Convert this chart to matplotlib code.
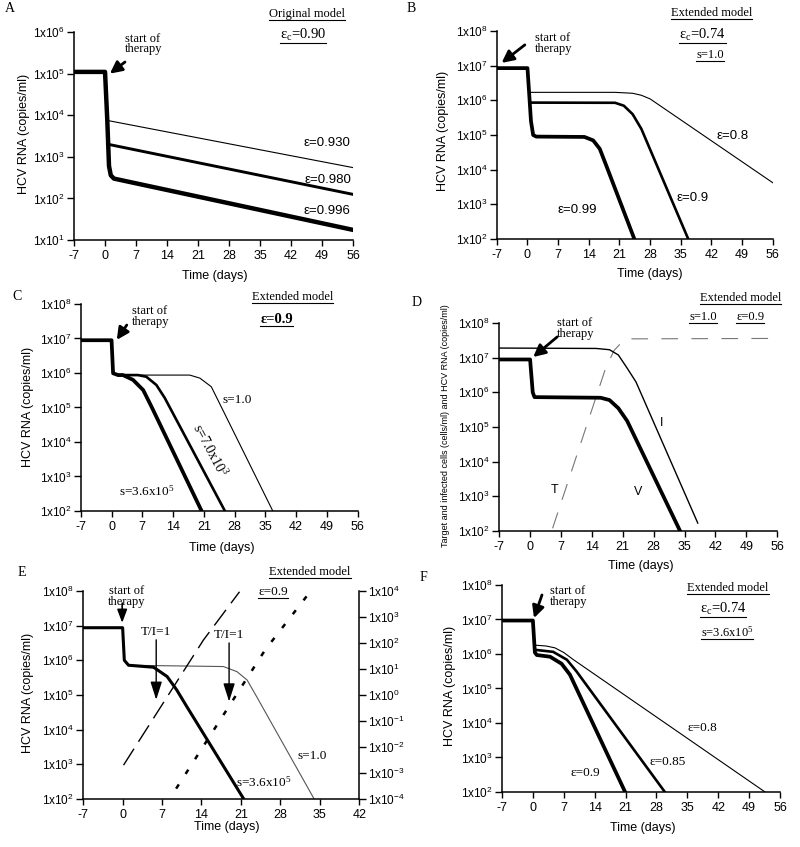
import matplotlib
matplotlib.use("Agg")
import matplotlib.pyplot as plt
from matplotlib.lines import Line2D
from matplotlib.ticker import NullLocator

plt.rcParams["font.family"] = "Liberation Sans"
plt.rcParams["mathtext.default"] = "regular"
plt.rcParams["axes.unicode_minus"] = False
SERIF = "Liberation Serif"

# ---- data (time in days, HCV RNA in copies/ml) ----
# A: original model
a_t_996 = [-7, 0, 0.5, 0.9, 1.3, 2.0, 56]
a_v_996 = [1.1e5, 1.1e5, 8e3, 6e2, 3.6e2, 3e2, 17.5]
a_t_980 = [0.7, 56]
a_v_980 = [2e3, 125]
a_t_930 = [0.5, 56]
a_v_930 = [7.5e3, 550]

# B: extended model, s=1.0
b_t_099 = [-7, 0, 0.4, 0.8, 1.3, 2.0, 13, 15, 16.5, 18, 24.4]
b_v_099 = [8.5e6, 8.5e6, 1.5e6, 2.5e5, 1e5, 9e4, 8.8e4, 7e4, 4e4, 1.3e4, 1e2]
b_t_09 = [0.45, 1.0, 20, 22, 24, 26, 36.7]
b_v_09 = [8.6e5, 8.6e5, 8.5e5, 7e5, 4e5, 1.5e5, 1e2]
b_t_08 = [0.37, 20, 24, 26, 28, 56]
b_v_08 = [1.7e6, 1.7e6, 1.6e6, 1.4e6, 1.1e6, 4.2e3]

# C: extended model, eps=0.9, varying s
c_t_36e5 = [-7, 0, 0.35, 1.5, 2.6, 4.9, 7.2, 9.1, 20.5]
c_v_36e5 = [8.9e6, 8.9e6, 9.8e5, 8.7e5, 8.7e5, 6.3e5, 3.2e5, 1.05e5, 1e2]
c_t_7e3 = [1.5, 6, 7.9, 10.2, 12.1, 25.8]
c_v_7e3 = [8.7e5, 8.7e5, 7.8e5, 4.5e5, 1.9e5, 1e2]
c_t_1 = [1.5, 17.8, 20.1, 22.7, 24.6, 36.7]
c_v_1 = [8.7e5, 8.7e5, 7.1e5, 4e5, 1.3e5, 1e2]

# D: target cells T, infected cells I, virus V
d_t_v = [-7, 0, 0.6, 1.0, 16, 18, 20, 22, 34]
d_v_v = [8.9e6, 8.9e6, 1e6, 7.3e5, 7e5, 6e5, 3.5e5, 1.5e5, 1e2]
d_t_i = [-7, 15, 18, 20, 22, 24, 38]
d_v_i = [1.9e7, 1.85e7, 1.7e7, 1.2e7, 5e6, 2e6, 1.7e2]
d_t_t = [5.1, 17, 19, 21, 23, 56]
d_v_t = [1.2e2, 4.5e6, 1.6e7, 3e7, 3.5e7, 3.6e7]

# E: virus (left axis) and T/I ratio (right axis)
e_t_36e5 = [-7, 0, 0.3, 1.05, 5.5, 7.9, 9.6, 11.4, 21.5]
e_v_36e5 = [8.7e6, 8.7e6, 1e6, 7.2e5, 6.3e5, 3.4e5, 1.4e5, 4.6e4, 1e2]
e_t_1 = [1.05, 17.9, 20.3, 22.1, 23.8, 34]
e_v_1 = [7.2e5, 6.6e5, 4.7e5, 2.7e5, 8.9e4, 1e2]
e_t_ti36e5 = [0.16, 14.35, 20.75]
e_r_ti36e5 = [2e-3, 1.3e2, 9.3e3]
e_t_ti1 = [9.5, 25.3, 33.4]
e_r_ti1 = [2.5e-4, 54, 1e4]

# F: extended model, s=3.6x10^5
f_t_09 = [-7, 0, 0.45, 0.9, 3.9, 6.5, 8.4, 20.9]
f_v_09 = [9.3e6, 9.3e6, 1.1e6, 9.3e5, 8.3e5, 5.2e5, 2.5e5, 1e2]
f_t_085 = [0.4, 0.86, 4.6, 7.7, 9.9, 29.9]
f_v_085 = [1.3e6, 1.3e6, 1.15e6, 6.8e5, 3.1e5, 1e2]
f_t_08 = [0.35, 3, 5, 7, 9.2, 52.6]
f_v_08 = [1.8e6, 1.7e6, 1.5e6, 1.1e6, 6.8e5, 1e2]

fig = plt.figure(figsize=(8, 8.47), dpi=100)
underlined = []


def setup(rect, ymin, ymax, xmax=56):
    ax = fig.add_axes(rect)
    ax.set_yscale("log")
    ax.set_ylim(10.0 ** ymin, 10.0 ** ymax)
    ax.set_xlim(-7, xmax)
    ax.set_xticks(range(-7, xmax + 1, 7))
    exps = range(ymin, ymax + 1)
    ax.set_yticks([10.0 ** k for k in exps])
    ax.set_yticklabels([f"1x10$^{{{k}}}$" for k in exps])
    ax.yaxis.set_minor_locator(NullLocator())
    for s in ("top", "right"):
        ax.spines[s].set_visible(False)
    for s in ("left", "bottom"):
        ax.spines[s].set_linewidth(1.1)
    ax.tick_params(axis="y", direction="out", length=5, width=1, pad=1.5, labelsize=8.5)
    ax.tick_params(axis="x", direction="out", length=4, width=1, pad=3, labelsize=9)
    return ax


def labels(ax, ylab, yx, yy, xx, xy, yfs=9):
    ax.set_ylabel(ylab, fontsize=yfs)
    ax.yaxis.set_label_coords(yx, yy)
    ax.set_xlabel("Time (days)", fontsize=9)
    ax.xaxis.set_label_coords(xx, xy)


def head(ax, s, x, y, size=9, ul=True):
    t = ax.text(x, y, s, transform=ax.transAxes, ha="center", va="center",
                family=SERIF, fontsize=size)
    if ul:
        underlined.append(t)
    return t


def therapy(ax, tx, ty, tail, tip, ha="left", lw=2.0, hl=0.6, hw=0.3):
    ax.text(tx, ty, "start of\ntherapy", family=SERIF, fontsize=9, ha=ha, va="top",
            linespacing=0.85)
    ax.annotate("", xy=tip, xytext=tail,
                arrowprops=dict(arrowstyle=f"-|>,head_length={hl},head_width={hw}",
                                lw=lw, color="k", mutation_scale=12,
                                shrinkA=0, shrinkB=0))


HCV = "HCV RNA (copies/ml)"

# ---------- A ----------
ax = setup([0.0925, 0.7166, 0.349, 0.2456], 1, 6)
ax.plot(a_t_930, a_v_930, color="k", lw=0.8)
ax.plot(a_t_980, a_v_980, color="k", lw=2.1)
ax.plot(a_t_996, a_v_996, color="k", lw=3.2, solid_joinstyle="round")
therapy(ax, 4.5, 10 ** 5.98, (4.5, 1.9e5), (1.1, 1e5))
head(ax, "Original model", 0.835, 1.087)
head(ax, "ε$_c$=0.90", 0.821, 0.986, size=10.5)
for s, x, y in [("ε=0.930", 50.1, 2.1e3), ("ε=0.980", 50.4, 2.7e2), ("ε=0.996", 50.1, 50)]:
    ax.text(x, y, s, fontsize=9.5, ha="center", va="center")
labels(ax, HCV, -0.158, 0.51, 0.505, -0.145)

# ---------- B ----------
ax = setup([0.621, 0.7178, 0.345, 0.2456], 2, 8)
ax.plot(b_t_08, b_v_08, color="k", lw=0.8)
ax.plot(b_t_09, b_v_09, color="k", lw=1.9)
ax.plot(b_t_099, b_v_099, color="k", lw=2.7, solid_joinstyle="round")
therapy(ax, 1.7, 10 ** 7.97, (-0.6, 10 ** 7.6), (-5.9, 10 ** 7.08))
head(ax, "Extended model", 0.779, 1.087)
head(ax, "ε$_c$=0.74", 0.746, 0.981, size=10.5)
head(ax, "s=1.0", 0.772, 0.885)
for s, x, y in [("ε=0.8", 46.9, 10 ** 4.97), ("ε=0.9", 37.7, 10 ** 3.18), ("ε=0.99", 11.3, 10 ** 2.84)]:
    ax.text(x, y, s, fontsize=9.5, ha="center", va="center")
labels(ax, HCV, -0.174, 0.52, 0.554, -0.14)

# ---------- C ----------
ax = setup([0.101, 0.3967, 0.346, 0.2444], 2, 8)
ax.plot(c_t_1, c_v_1, color="k", lw=0.8)
ax.plot(c_t_7e3, c_v_7e3, color="k", lw=1.9)
ax.plot(c_t_36e5, c_v_36e5, color="k", lw=2.7, solid_joinstyle="round")
therapy(ax, 4.6, 10 ** 7.97, (3.46, 10 ** 7.39), (1.19, 10 ** 6.96))
head(ax, "Extended model", 0.765, 1.034)
t = head(ax, "ε=0.9", 0.708, 0.923, size=10.5)
t.set_fontweight("bold")
ax.text(28.5, 10 ** 5.22, "s=1.0", family=SERIF, fontsize=9.5, ha="center", va="center")
ax.text(22.3, 10 ** 3.77, "s=7.0x10$^3$", family=SERIF, fontsize=10, ha="center",
        va="center", rotation=-62)
ax.text(8.1, 10 ** 2.56, "s=3.6x10$^5$", family=SERIF, fontsize=9.5, ha="center", va="center")
labels(ax, HCV, -0.17, 0.504, 0.508, -0.148)

# ---------- D ----------
ax = setup([0.624, 0.373, 0.3475, 0.2456], 2, 8)
ax.plot(d_t_t, d_v_t, color="#777777", lw=0.8, dashes=(15, 12))
ax.plot(d_t_i, d_v_i, color="k", lw=1.0)
ax.plot(d_t_v, d_v_v, color="k", lw=2.7, solid_joinstyle="round")
therapy(ax, 6.1, 10 ** 8.17, (6.14, 10 ** 7.6), (0.7, 10 ** 7.02))
head(ax, "Extended model", 0.867, 1.12)
head(ax, "s=1.0", 0.734, 1.029)
head(ax, "ε=0.9", 0.903, 1.029)
for s, x, y in [("T", 5.46, 10 ** 3.18), ("V", 24.5, 10 ** 3.12), ("I", 29.7, 10 ** 5.12)]:
    ax.text(x, y, s, fontsize=9, ha="center", va="center")
labels(ax, "Target and infected cells (cells/ml) and HCV RNA (copies/ml)",
       -0.176, 0.505, 0.51, -0.139, yfs=6.5)

# ---------- E ----------
ax = setup([0.104, 0.0567, 0.345, 0.2456], 2, 8, xmax=42)
ax.plot(e_t_1, e_v_1, color="#555555", lw=0.8)
ax.plot(e_t_36e5, e_v_36e5, color="k", lw=2.2, solid_joinstyle="round")
tw = ax.twinx()
tw.set_yscale("log")
tw.set_ylim(1e-4, 1e4)
tw.set_yticks([10.0 ** k for k in range(-4, 5)])
tw.set_yticklabels([f"1x10$^{{{k}}}$" for k in range(-4, 5)])
tw.yaxis.set_minor_locator(NullLocator())
for s in ("top", "left", "bottom"):
    tw.spines[s].set_visible(False)
tw.spines["right"].set_linewidth(1.1)
tw.tick_params(axis="y", direction="out", length=5, width=1, pad=1.5, labelsize=8.5)
tw.plot(e_t_ti36e5, e_r_ti36e5, color="k", lw=1.0, dashes=(14, 6))
tw.plot(e_t_ti1, e_r_ti1, color="k", lw=1.8, dashes=(2, 5))
ax.text(0.63, 10 ** 8.17, "start of\ntherapy", family=SERIF, fontsize=9, ha="center",
        va="top", linespacing=0.85)
ax.annotate("", xy=(-0.08, 10 ** 7.08), xytext=(-0.08, 10 ** 7.65),
            arrowprops=dict(arrowstyle="-|>,head_length=0.8,head_width=0.3", lw=1.2,
                            color="k", mutation_scale=10, shrinkA=0, shrinkB=0))
for x, y_txt, y0, y1 in [(5.96, 10 ** 6.82, 10 ** 6.59, 10 ** 4.86),
                         (18.9, 10 ** 6.73, 10 ** 6.5, 10 ** 4.81)]:
    ax.text(x, y_txt, "T/I=1", family=SERIF, fontsize=9.5, ha="center", va="center")
    ax.annotate("", xy=(x, y1), xytext=(x, y0),
                arrowprops=dict(arrowstyle="-|>,head_length=1.1,head_width=0.35", lw=1.0,
                                color="k", mutation_scale=10, shrinkA=0, shrinkB=0))
head(ax, "Extended model", 0.822, 1.091)
head(ax, "ε=0.9", 0.688, 0.995, size=9.5)
ax.text(33.7, 10 ** 3.24, "s=1.0", family=SERIF, fontsize=9.5, ha="center", va="center")
ax.text(25.0, 10 ** 2.49, "s=3.6x10$^5$", family=SERIF, fontsize=9.5, ha="center", va="center")
labels(ax, HCV, -0.178, 0.51, 0.52, -0.105)

# ---------- F ----------
ax = setup([0.6275, 0.065, 0.3475, 0.2444], 2, 8)
ax.plot(f_t_08, f_v_08, color="k", lw=0.8)
ax.plot(f_t_085, f_v_085, color="k", lw=1.9)
ax.plot(f_t_09, f_v_09, color="k", lw=2.7, solid_joinstyle="round")
therapy(ax, 3.9, 10 ** 8.0, (2.06, 10 ** 7.71), (0.25, 10 ** 7.04))
head(ax, "Extended model", 0.813, 0.986)
head(ax, "ε$_c$=0.74", 0.795, 0.884, size=10.5)
head(ax, "s=3.6x10$^5$", 0.809, 0.773)
for s, x, y in [("ε=0.8", 38.5, 10 ** 3.86), ("ε=0.85", 30.6, 10 ** 2.87), ("ε=0.9", 11.8, 10 ** 2.55)]:
    ax.text(x, y, s, family=SERIF, fontsize=9.5, ha="center", va="center")
labels(ax, HCV, -0.165, 0.51, 0.507, -0.143)

# panel letters
for s, x, y in [("A", 10, 8), ("B", 411, 8), ("C", 17, 297), ("D", 417, 302),
                ("E", 22, 573), ("F", 423, 577)]:
    fig.text(x / 800, 1 - y / 847, s, family=SERIF, fontsize=10, ha="center", va="center")

# underline header texts
fig.canvas.draw()
r = fig.canvas.get_renderer()
for t in underlined:
    bb = t.get_window_extent(r).transformed(fig.transFigure.inverted())
    fig.add_artist(Line2D([bb.x0, bb.x1], [bb.y0, bb.y0], transform=fig.transFigure,
                          color="k", lw=0.8))

fig.savefig("out.png", dpi=100)
